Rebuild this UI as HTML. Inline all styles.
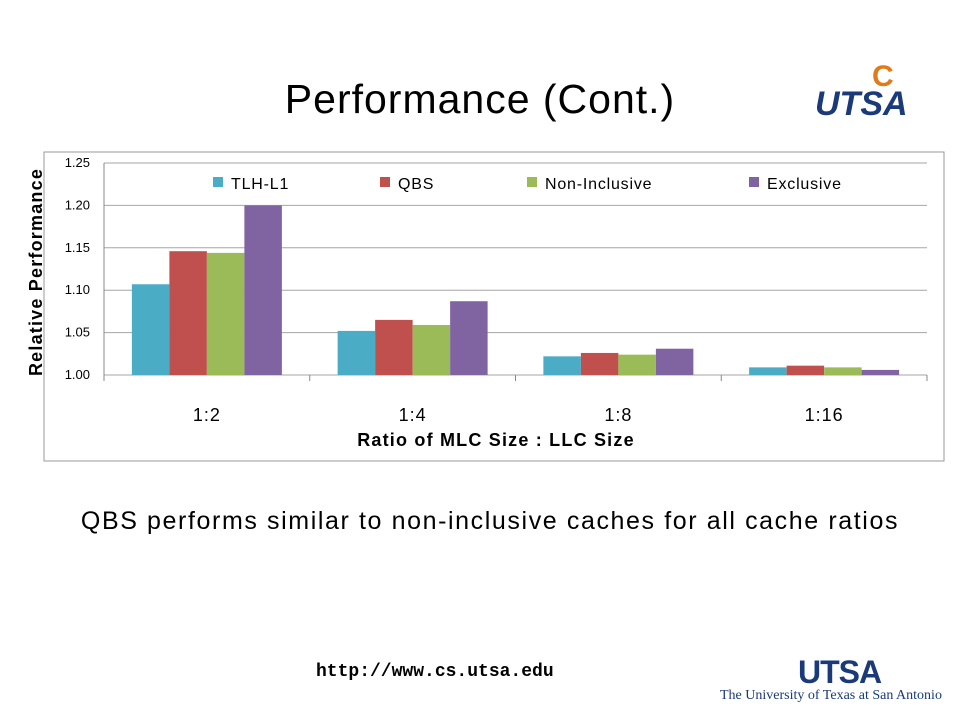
<!DOCTYPE html>
<html><head><meta charset="utf-8"><style>
body{margin:0;width:960px;height:720px;background:#fff;position:relative;overflow:hidden;font-family:"Liberation Sans",sans-serif}
.t{position:absolute;white-space:nowrap}
</style></head><body>
<div class="t" style="left:0;width:960px;text-align:center;top:76px;font-size:41px;letter-spacing:1px;color:#000">Performance (Cont.)</div>
<div style="position:absolute;left:800px;top:30px;width:150px;height:110px">
<div class="t" style="left:15px;top:55px;font-size:34px;font-weight:bold;font-style:italic;color:#1a3a7a">UTSA</div>
<div class="t" style="left:72px;top:30px;font-size:30px;font-weight:bold;color:#e07a1a">C</div>
</div>
<svg id="chart" width="960" height="720" style="position:absolute;left:0;top:0">
<rect x="44" y="152" width="900" height="309" fill="#fff" stroke="#999" stroke-width="1"/>
<g id="g"></g>
</svg>
<div class="t" style="left:0;width:980px;text-align:center;top:507px;font-size:25px;letter-spacing:1.6px;color:#000">QBS performs similar to non-inclusive caches for all cache ratios</div>
<div class="t" style="left:316px;top:662px;font-family:'Liberation Mono',monospace;font-weight:bold;font-size:18px;color:#000">http://www.cs.utsa.edu</div>
<div class="t" style="left:798px;top:654px;font-size:32px;font-weight:bold;color:#1a3a7a;letter-spacing:-1px">UTSA</div>
<div class="t" style="left:720px;top:688px;font-family:'Liberation Serif',serif;font-size:14px;color:#1a3a7a">The University of Texas at San Antonio</div>
<script>
const categories=["1:2","1:4","1:8","1:16"];
const seriesNames=["TLH-L1","QBS","Non-Inclusive","Exclusive"];
const tlh=[1.107,1.052,1.022,1.009];
const qbs=[1.146,1.065,1.026,1.011];
const nonInc=[1.144,1.059,1.024,1.009];
const excl=[1.200,1.087,1.031,1.006];
const yTicks=[1.00,1.05,1.10,1.15,1.20,1.25];
const series=[tlh,qbs,nonInc,excl];
const colors=["#4bacc6","#c0504d","#9bbb59","#8064a2"];
const L=104,R=927,T=163,B=375,ymin=1.0,ymax=1.25;
const y=v=>B-(v-ymin)/(ymax-ymin)*(B-T);
const cw=(R-L)/categories.length;
const x=i=>L+cw*i;
const g=document.getElementById('g');
const NS="http://www.w3.org/2000/svg";
function mk(tag,a,txt){const e=document.createElementNS(NS,tag);for(const k in a)e.setAttribute(k,a[k]);if(txt!=null)e.textContent=txt;g.appendChild(e);return e;}
yTicks.forEach(v=>{
 const l=mk('line',{x1:L,x2:R,y1:y(v),y2:y(v),stroke:'#a6a6a6','stroke-width':1});
 
 
 const t=mk('text',{x:L-14,y:y(v)+4,'text-anchor':'end','font-size':13,fill:'#000'},v.toFixed(2));
 
 
});
mk('line',{x1:L,x2:L,y1:T,y2:B,stroke:'#888'});
for(let i=0;i<=categories.length;i++){mk('line',{x1:x(i),x2:x(i),y1:B,y2:B+6,stroke:'#888'});}
const bw=37.5;
categories.forEach((c,i)=>{
 const cx=x(i)+cw/2;
 series.forEach((s,j)=>{
  const bx=cx-2*bw+j*bw;
  const r=mk('rect',{x:bx,y:y(s[i]),width:bw,height:B-y(s[i]),fill:colors[j]});
  
  
 });
 const t=mk('text',{x:cx,y:421,'text-anchor':'middle','font-size':18,'letter-spacing':1,fill:'#000'},c);
 
 
});
const lx=[213,380,527,749];
seriesNames.forEach((n,j)=>{
 mk('rect',{x:lx[j],y:177,width:10,height:10,fill:colors[j]});
 const t=mk('text',{x:lx[j]+18,y:189,'font-size':16,'letter-spacing':0.8,fill:'#000'},n);
 
 
});
const xt=mk('text',{x:496,y:446,'text-anchor':'middle','font-size':18,'font-weight':'bold','letter-spacing':1.2,fill:'#000'},'Ratio of MLC Size : LLC Size');


const yt=mk('text',{x:0,y:0,'text-anchor':'middle','font-size':18,'font-weight':'bold','letter-spacing':1.2,fill:'#000',transform:'translate(42,272) rotate(-90)'},'Relative Performance');


</script>
</body></html>
